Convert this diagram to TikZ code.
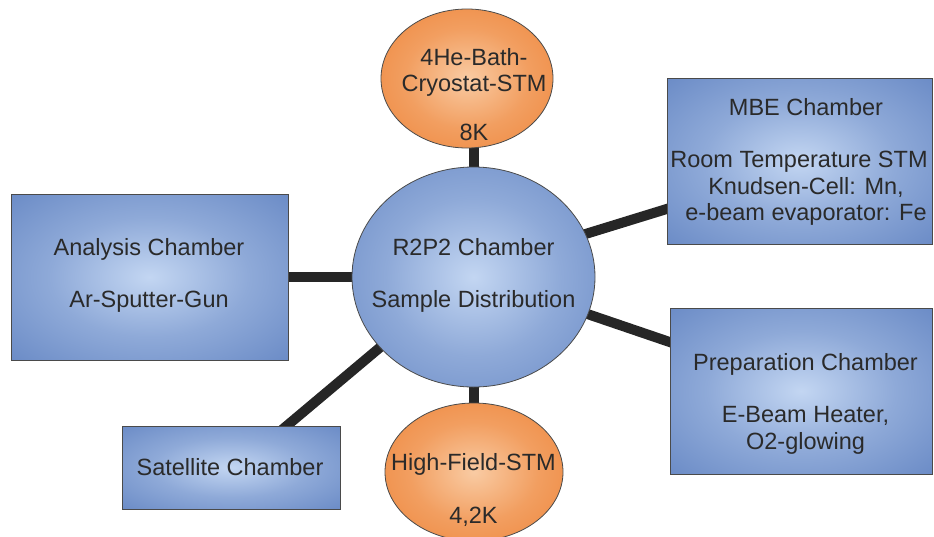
\documentclass[tikz,border=0pt]{standalone}
\usepackage{fontspec}
\setmainfont{Liberation Sans}
\usetikzlibrary{shapes.geometric}
\definecolor{blueout}{HTML}{5A7DBE}
\definecolor{bluein}{HTML}{C3D6F2}
\definecolor{orout}{HTML}{EC7A2A}
\definecolor{orin}{HTML}{F9CBA3}
\definecolor{rimcol}{HTML}{4A4A4A}
\definecolor{conncol}{HTML}{262626}
\definecolor{txtcol}{HTML}{2A2A2A}
\pgfdeclareradialshading{blueshade}{\pgfpoint{0bp}{0bp}}{color(0bp)=(bluein); color(18bp)=(bluein!50!blueout); color(44bp)=(blueout); color(50bp)=(blueout)}
\pgfdeclareradialshading{orshade}{\pgfpoint{0bp}{0bp}}{color(0bp)=(orin); color(18bp)=(orin!45!orout); color(44bp)=(orout); color(50bp)=(orout)}
\pgfdeclarelayer{bg}
\pgfsetlayers{bg,main}
\begin{document}
\begin{tikzpicture}[x=1pt,y=-1pt,
  chamberbox/.style={rectangle, draw=rimcol, line width=0.8pt, shading=blueshade, inner sep=0pt},
  hubshape/.style={ellipse, draw=rimcol, line width=0.8pt, shading=blueshade, inner sep=0pt},
  stmshape/.style={ellipse, draw=rimcol, line width=0.8pt, shading=orshade, inner sep=0pt},
  labeltext/.style={anchor=north, inner sep=0pt, align=center, text=txtcol, font=\fontsize{23.5}{26.5}\selectfont},
  link/.style={line width=10pt, draw=conncol}
]
\useasboundingbox (0,0) rectangle (934,536);

% shapes
\node[chamberbox, minimum width=277pt, minimum height=166pt] (ana) at (149.5,277) {};
\node[chamberbox, minimum width=265pt, minimum height=166pt] (mbe) at (799.5,161) {};
\node[chamberbox, minimum width=262pt, minimum height=166pt] (prep) at (801,391) {};
\node[chamberbox, minimum width=218pt, minimum height=83pt] (sat) at (231,467.5) {};
\node[hubshape, minimum width=243pt, minimum height=220pt] (c) at (473.5,277) {};
\node[stmshape, minimum width=172pt, minimum height=139pt] (top) at (467,78.5) {};
\node[stmshape, minimum width=178pt, minimum height=138pt] (bot) at (474,472) {};

% texts
\node[labeltext] (anat) at (149,236.5) {Analysis Chamber\strut\\[26pt]Ar-Sputter-Gun};
\node[labeltext] (mbet) at (806,96.5) {MBE Chamber\strut\\[26pt]\hspace*{-14pt}Room Temperature STM\\Knudsen-Cell: Mn,\\e-beam evaporator: Fe};
\node[labeltext] (prept) at (805.5,351.5) {Preparation Chamber\strut\\[26pt]E-Beam Heater,\\O2-glowing};
\node[labeltext] (satt) at (230,456.5) {Satellite Chamber\strut};
\node[labeltext] (ct) at (473.5,236.5) {R2P2 Chamber\strut\\[26pt]Sample Distribution};
\node[labeltext] (topt) at (474,46.5) {4He-Bath-\strut\\Cryostat-STM\\[22.5pt]8K};
\node[labeltext] (bott) at (473.5,452) {High-Field-STM\strut\\[26pt]4,2K};

% connectors
\begin{pgfonlayer}{bg}
\draw[link, shorten <=-6pt, shorten >=-6pt] (c.west) -- (ana.east);
\draw[link, shorten <=-8pt, shorten >=-8pt] (c.21) -- ([yshift=-48pt]mbe.west);
\draw[link, shorten <=-8pt, shorten >=-8pt] (c.-18) -- ([yshift=49pt]prep.west);
\draw[link, shorten <=-8pt, shorten >=-8pt] (c.217) -- ([xshift=56pt]sat.north);
\draw[link, shorten <=-6pt, shorten >=-6pt] (c.north) -- (c.north |- top.south);
\draw[link, shorten <=-6pt, shorten >=-6pt] (c.south) -- (c.south |- bot.north);
\end{pgfonlayer}
\end{tikzpicture}
\end{document}
